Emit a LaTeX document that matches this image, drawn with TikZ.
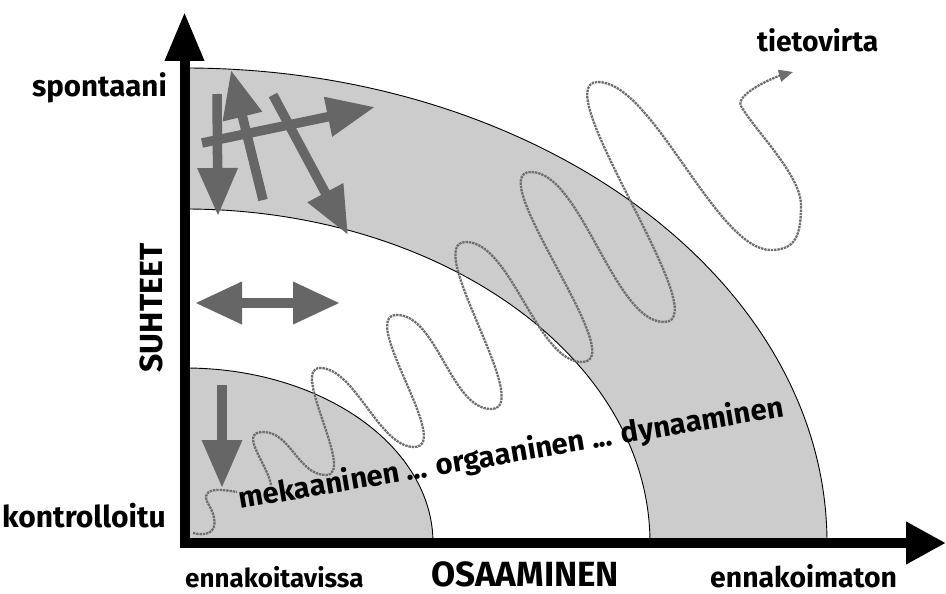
\documentclass[tikz,border=0pt]{standalone}
\usepackage{fontspec}
\setmainfont{Fira Sans}
\usetikzlibrary{arrows.meta}
\definecolor{bandgray}{HTML}{CCCCCC}
\definecolor{arrgray}{HTML}{666666}
\definecolor{wavegray}{HTML}{6E6E6E}
\newcommand{\fsz}[1]{\fontsize{#1}{#1}\selectfont}
\begin{document}
\begin{tikzpicture}[x=1pt,y=-1pt,
  axisline/.style={line width=10pt, black},
  bigarrow/.style={line width=9.5pt, arrgray, -{Triangle[length=48pt,width=38pt]}},
  bigdouble/.style={line width=10pt, arrgray, {Triangle[length=47pt,width=40pt]}-{Triangle[length=47pt,width=40pt]}},
  rim/.style={black, line width=0.9pt},
  wave/.style={wavegray, line width=2.3pt, dash pattern=on 2.4pt off 0.9pt},
  lbl/.style={font=\bfseries, inner sep=0pt},
  caplbl/.style={font=\bfseries, inner sep=0pt}]
\useasboundingbox (0,0) rectangle (946,594);

% gray regions
\fill[bandgray] (650,543) -- (827,543)
  arc[start angle=0,end angle=90,x radius=642pt,y radius=475pt]
  -- (185,209)
  arc[start angle=90,end angle=0,x radius=465pt,y radius=334pt] -- cycle;
\fill[bandgray] (185,543) -- (433,543)
  arc[start angle=0,end angle=90,x radius=248pt,y radius=175pt] -- cycle;
\draw[rim] (827,543) arc[start angle=0,end angle=90,x radius=642pt,y radius=475pt];
\draw[rim] (185,209) arc[start angle=90,end angle=0,x radius=465pt,y radius=334pt];
\draw[rim] (433,543) arc[start angle=0,end angle=90,x radius=248pt,y radius=175pt];

% big gray arrows
\coordinate (a1s) at (217,94);  \coordinate (a1e) at (218,216);
\coordinate (a2s) at (263,200); \coordinate (a2e) at (231,70);
\coordinate (a3s) at (202,143); \coordinate (a3e) at (375,107);
\coordinate (a4s) at (273,95);  \coordinate (a4e) at (348,235);
\coordinate (d1) at (195,303);  \coordinate (d2) at (340,303);
\coordinate (a5s) at (222,385); \coordinate (a5e) at (222,488);
\draw[bigarrow] (a1s) -- (a1e);
\draw[bigarrow] (a2s) -- (a2e);
\draw[bigarrow] (a3s) -- (a3e);
\draw[bigarrow] (a4s) -- (a4e);
\draw[bigdouble] (d1) -- (d2);
\draw[bigarrow] (a5s) -- (a5e);

% information flow (wave)
\coordinate (S) at (193,533);
\coordinate (W0) at (237,492);
\coordinate (U0) at (271,485);
\coordinate (T1) at (263,432);
\coordinate (B1) at (326,475);
\coordinate (T2) at (320,368);
\coordinate (B2) at (414,447);
\coordinate (T3) at (397,315);
\coordinate (B3) at (491,409);
\coordinate (T4) at (466,242);
\coordinate (B4) at (582,362);
\coordinate (T5) at (531,172);
\coordinate (B5) at (664,322);
\coordinate (T6) at (598,82);
\coordinate (B6) at (771,250);
\coordinate (R) at (801,205);
\coordinate (L) at (741,106);
\coordinate (E) at (793,72);
\draw[wave] (S) .. controls (205,536) and (217,534) .. (214,518)
  .. controls (212,506) and (203,500) .. (207,494)
  .. controls (210,489) and (220,489) .. (W0);
\draw[wave, -{Triangle[length=14pt,width=12pt]}]
  (U0) .. controls (268,465) and (238,432) .. (T1)
  .. controls +(28,0) and +(-28,0) .. (B1)
  .. controls +(30,0) and +(-30,0) .. (T2)
  .. controls +(35,0) and +(-35,0) .. (B2)
  .. controls +(40,0) and +(-40,0) .. (T3)
  .. controls +(40,0) and +(-40,0) .. (B3)
  .. controls +(45,0) and +(-45,0) .. (T4)
  .. controls +(45,0) and +(-45,0) .. (B4)
  .. controls +(50,0) and +(-50,0) .. (T5)
  .. controls +(50,0) and +(-50,0) .. (B5)
  .. controls +(55,0) and +(-55,0) .. (T6)
  .. controls +(55,0) and +(-55,0) .. (B6)
  .. controls +(25,0) and +(0,30) .. (R)
  .. controls +(0,-30) and +(12,22) .. (L)
  .. controls +(-6,-12) and +(-18,5) .. (E);

% axes
\coordinate (O) at (184.5,548);
\coordinate (ytip) at (184.5,12);
\coordinate (O2) at (179.5,543);
\coordinate (xtip) at (946,543);
\draw[axisline, -{Triangle[length=49pt,width=37pt]}] (O) -- (ytip);
\draw[axisline, -{Triangle[length=40pt,width=40pt]}] (O2) -- (xtip);

% labels
\node[lbl, font=\bfseries\fsz{29.5}, anchor=base east] (spont) at (167,96) {spontaani};
\node[lbl, font=\bfseries\fsz{30}, anchor=base east] (kontr) at (166,527) {kontrolloitu};
\node[caplbl, font=\bfseries\fsz{32}, rotate=90, anchor=base] (suh) at (162,308) {SUHTEET};
\node[lbl, font=\bfseries\fsz{26}, anchor=base west] (enn1) at (185,587) {ennakoitavissa};
\node[caplbl, font=\bfseries\fsz{35}, anchor=base west] (osa) at (431,586) {OSAAMINEN};
\node[lbl, font=\bfseries\fsz{28.4}, anchor=base west] (enn2) at (710,587) {ennakoimaton};
\node[lbl, font=\bfseries\fsz{28.3}, anchor=base west] (tieto) at (757,52) {tietovirta};
\node[lbl, font=\bfseries\fsz{29.2}, anchor=base west, rotate=9.65] (mid) at (240,509) {mekaaninen ... orgaaninen ... dynaaminen};
\end{tikzpicture}
\end{document}
